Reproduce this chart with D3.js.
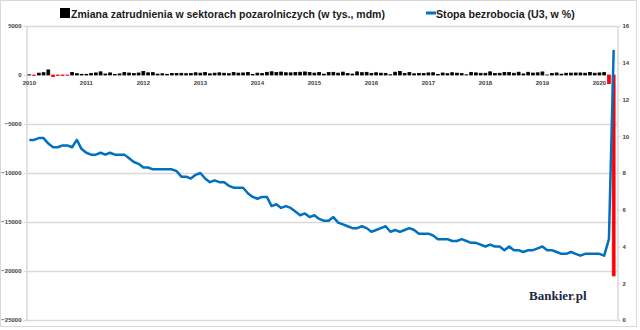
<!DOCTYPE html>
<html>
<head>
<meta charset="utf-8">
<script src="https://cdn.jsdelivr.net/npm/d3@7"></script>
<style>
  body { margin: 0; background: #fff; }
  svg { display: block; font-family: "Liberation Sans", Arial, sans-serif; }
</style>
</head>
<body>
<svg id="chart"></svg>
<script>
const width = 640, height = 330

// month-on-month change in nonfarm payrolls (thousands), Jan 2010 - Apr 2020
const payrolls = [
  14, -39, 189, 239, 516, -167, -58, -51, -27, 265, 137, 71,
  70, 168, 212, 322, 102, 217, 62, 110, 246, 202, 146, 207,
  361, 225, 242, 93, 125, 74, 163, 167, 176, 136, 156, 229,
  189, 263, 122, 188, 222, 182, 130, 261, 192, 212, 255, 48,
  190, 151, 272, 329, 246, 304, 232, 220, 262, 281, 312, 260,
  194, 265, 84, 251, 273, 192, 293, 157, 100, 321, 237, 274,
  168, 233, 186, 169, 26, 287, 352, 167, 249, 124, 164, 155,
  216, 232, 49, 204, 133, 232, 188, 156, 18, 268, 216, 175,
  176, 324, 155, 175, 268, 248, 178, 282, 108, 277, 196, 227,
  312, 1, 147, 210, 85, 182, 194, 207, 208, 185, 261, 184,
  214, 251, -881, -20500
]

// U3 unemployment rate (%)
const unemployment = [
  9.8, 9.8, 9.9, 9.9, 9.6, 9.4, 9.4, 9.5, 9.5, 9.4, 9.8, 9.3,
  9.1, 9.0, 9.0, 9.1, 9.0, 9.1, 9.0, 9.0, 9.0, 8.8, 8.6, 8.5,
  8.3, 8.3, 8.2, 8.2, 8.2, 8.2, 8.2, 8.1, 7.8, 7.8, 7.7, 7.9,
  8.0, 7.7, 7.5, 7.6, 7.5, 7.5, 7.3, 7.2, 7.2, 7.2, 6.9, 6.7,
  6.6, 6.7, 6.7, 6.2, 6.3, 6.1, 6.2, 6.1, 5.9, 5.7, 5.8, 5.6,
  5.7, 5.5, 5.4, 5.4, 5.6, 5.3, 5.2, 5.1, 5.0, 5.0, 5.1, 5.0,
  4.8, 4.9, 5.0, 5.1, 4.8, 4.9, 4.8, 4.9, 5.0, 4.9, 4.7, 4.7,
  4.7, 4.6, 4.4, 4.4, 4.4, 4.3, 4.3, 4.4, 4.3, 4.2, 4.2, 4.1,
  4.0, 4.1, 4.0, 4.0, 3.8, 4.0, 3.8, 3.8, 3.7, 3.8, 3.8, 3.9,
  4.0, 3.8, 3.8, 3.7, 3.6, 3.6, 3.7, 3.6, 3.5, 3.6, 3.6, 3.6,
  3.6, 3.5, 4.4, 14.7
]

const years = ['2010', '2011', '2012', '2013', '2014', '2015', '2016', '2017', '2018', '2019', '2020']
const leftTicks = [5000, 0, -5000, -10000, -15000, -20000, -25000]
const rightTicks = [0, 2, 4, 6, 8, 10, 12, 14, 16]
const legendLabels = ['Zmiana zatrudnienia w sektorach pozarolniczych (w tys., mdm)', 'Stopa bezrobocia (U3, w %)']

const plot = {left: 26, right: 617, top: 26, bottom: 320}
const gridColor = '#d9d9d9'
const blue = '#0070c0'

const svg = d3.select('#chart')
  .attr('width', width)
  .attr('height', height)

svg.append('rect')
  .attr('x', 0.5).attr('y', 0.5)
  .attr('width', 636).attr('height', 326)
  .attr('fill', '#fff')
  .attr('stroke', gridColor)

const months = d3.range(payrolls.length)
const x = d3.scaleBand()
  .domain(months)
  .range([plot.left, plot.right])
  .padding(0.4)

const yLeft = d3.scaleLinear().domain([-25000, 5000]).range([plot.bottom, plot.top])
const yRight = d3.scaleLinear().domain([0, 16]).range([plot.bottom, plot.top])

// gridlines
svg.append('g')
  .selectAll('line')
  .data(leftTicks.filter(d => d !== 0))
  .join('line')
  .attr('x1', plot.left).attr('x2', plot.right)
  .attr('y1', d => Math.round(yLeft(d)) + 0.5)
  .attr('y2', d => Math.round(yLeft(d)) + 0.5)
  .attr('stroke', gridColor)
  .attr('stroke-width', 1.5)

function styleAxis(g) {
  g.select('.domain').attr('stroke', gridColor).attr('stroke-width', 1.5)
  g.selectAll('.tick line').attr('stroke', gridColor)
  g.selectAll('text')
    .attr('font-size', 6)
    .attr('font-weight', 'bold')
    .attr('fill', '#404040')
    .attr('font-family', 'Liberation Sans')
}

// left axis
svg.append('g')
  .attr('transform', `translate(${plot.left + 0.5}, 0)`)
  .call(d3.axisLeft(yLeft).tickValues(leftTicks).tickSize(3).tickPadding(2).tickFormat(d3.format('d')))
  .call(styleAxis)

// right axis
svg.append('g')
  .attr('transform', `translate(${plot.right + 0.5}, 0)`)
  .call(d3.axisRight(yRight).tickValues(rightTicks).tickSize(3).tickPadding(2))
  .call(styleAxis)

// bars
svg.append('g')
  .selectAll('rect')
  .data(payrolls)
  .join('rect')
  .attr('x', (d, i) => x(i))
  .attr('width', x.bandwidth())
  .attr('y', d => yLeft(Math.max(0, d)))
  .attr('height', d => Math.abs(yLeft(d) - yLeft(0)))
  .attr('fill', d => d < 0 ? '#ff0000' : '#000')
  .attr('stroke', d => d < 0 ? '#ff0000' : '#000')
  .attr('stroke-width', 0.8)

// year labels at January of each year
svg.append('g')
  .selectAll('text')
  .data(years)
  .join('text')
  .attr('x', (d, i) => x(i * 12) + x.bandwidth() / 2)
  .attr('y', yLeft(0) + 10)
  .attr('text-anchor', 'middle')
  .attr('font-size', 6)
  .attr('font-weight', 'bold')
  .attr('fill', '#404040')
  .text(d => d)

// unemployment line
const line = d3.line()
  .x((d, i) => x(i) + x.bandwidth() / 2)
  .y(d => yRight(d))

svg.append('path')
  .datum(unemployment)
  .attr('d', line)
  .attr('fill', 'none')
  .attr('stroke', blue)
  .attr('stroke-width', 2.5)
  .attr('stroke-linejoin', 'round')

// legend
const legend = svg.append('g').attr('font-weight', 'bold').attr('fill', '#1a1a1a')

function fitText(sel, target) {
  const w = sel.node().getComputedTextLength()
  sel.attr('font-size', 13 * target / w)
}

legend.append('rect')
  .attr('x', 60).attr('y', 8)
  .attr('width', 10).attr('height', 10)
  .attr('fill', '#000')
legend.append('text')
  .attr('x', 71).attr('y', 17.5)
  .attr('font-size', 13)
  .text(legendLabels[0])
  .call(fitText, 314)

legend.append('line')
  .attr('x1', 426).attr('x2', 436)
  .attr('y1', 13).attr('y2', 13)
  .attr('stroke', blue)
  .attr('stroke-width', 3)
legend.append('text')
  .attr('x', 436).attr('y', 17.5)
  .attr('font-size', 13)
  .text(legendLabels[1])
  .call(fitText, 139)

// watermark
const logo = svg.append('text')
  .attr('x', 529).attr('y', 300)
  .attr('font-family', '"Liberation Serif", "DejaVu Serif", serif')
  .attr('font-weight', 'bold')
  .attr('font-size', 13)
  .attr('fill', '#1b2845')
logo.append('tspan').text('Bankier')
logo.append('tspan').attr('fill', '#e8542b').text('.')
logo.append('tspan').text('pl')
</script>
</body>
</html>
